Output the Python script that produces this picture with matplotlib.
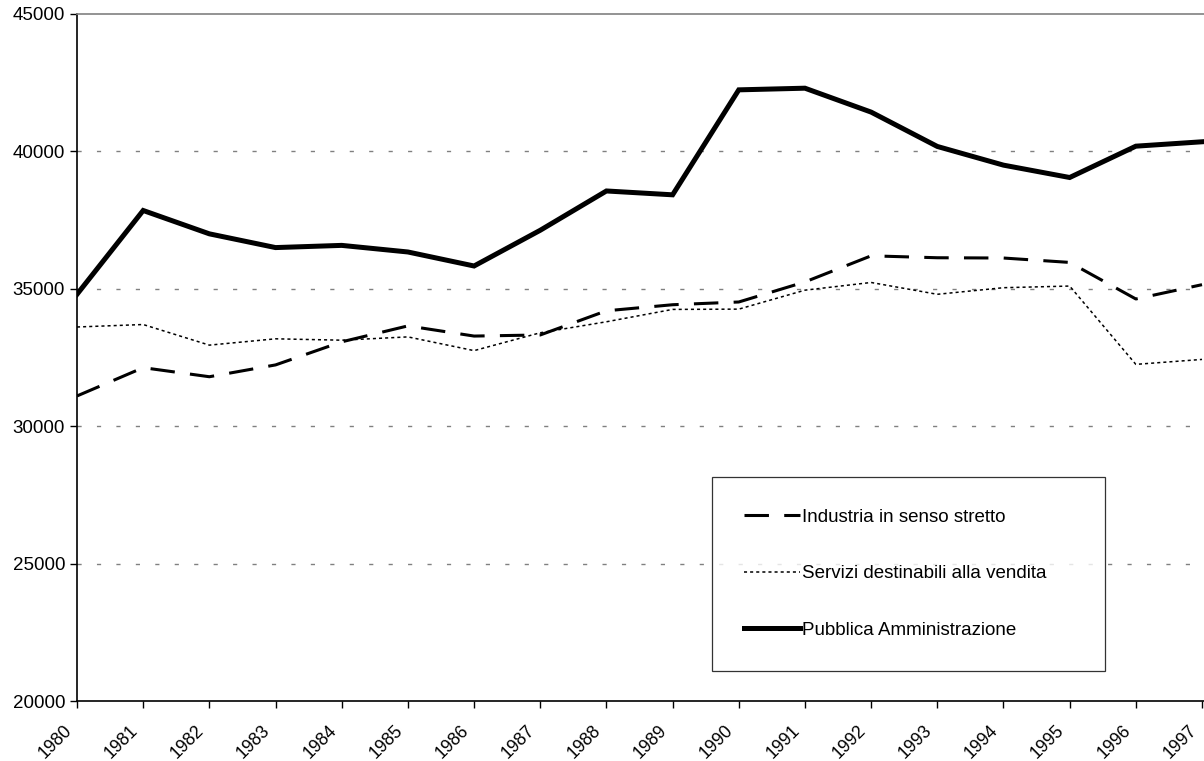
import matplotlib
matplotlib.use("Agg")
from matplotlib import pyplot as plt
from matplotlib import transforms

plt.rcParams['font.family'] = ['Liberation Sans', 'DejaVu Sans']

# data
anni = [1980, 1981, 1982, 1983, 1984, 1985, 1986, 1987, 1988,
        1989, 1990, 1991, 1992, 1993, 1994, 1995, 1996, 1997]

industria = [31100, 32130, 31800, 32230, 33070, 33650, 33280, 33320, 34200,
             34420, 34520, 35250, 36200, 36130, 36120, 35960, 34630, 35150]

servizi = [33610, 33700, 32950, 33180, 33130, 33250, 32750, 33400, 33800,
           34250, 34260, 34950, 35230, 34800, 35040, 35100, 32250, 32430]

pubblica = [34800, 37850, 37000, 36500, 36580, 36340, 35830, 37130, 38560,
            38420, 42240, 42300, 41430, 40180, 39500, 39050, 40190, 40350]

nomi = ["Industria in senso stretto",
        "Servizi destinabili alla vendita",
        "Pubblica Amministrazione"]

y_ticks = [20000, 25000, 30000, 35000, 40000, 45000]
fs = 13.5

fig = plt.figure(figsize=(12.04, 7.61), dpi=100)
ax = fig.add_axes([77/1204, 1-701/761, 1-77/1204, (701-14)/761])

# grid
for v in y_ticks[1:-1]:
    ax.axhline(v, color='#808080', lw=1.0, dashes=(3, 11), zorder=1)

ax.plot(anni, industria, color='black', lw=2.2, dashes=(8, 5), label=nomi[0], zorder=3)
ax.plot(anni, servizi, color='black', lw=1.1, dashes=(2, 2), label=nomi[1], zorder=3)
ax.plot(anni, pubblica, color='black', lw=3.6, solid_joinstyle='miter', label=nomi[2], zorder=4)

ax.set_xlim(1980, 1997.03)
ax.set_ylim(20000, 45000)
ax.set_yticks(y_ticks)
ax.set_yticklabels([str(v) for v in y_ticks], fontsize=fs)
ax.set_xticks(anni)
ax.set_xticklabels([str(a) for a in anni], fontsize=12.7, rotation=45,
                   ha='right', rotation_mode='anchor')
ax.tick_params(axis='both', direction='out', length=5, width=1, color='black')
ax.tick_params(axis='x', pad=6)

# shift the year labels a bit left/down like the original
shift = transforms.ScaledTranslation(-0.14, -0.06, fig.dpi_scale_trans)
for lab in ax.get_xticklabels():
    lab.set_transform(lab.get_transform() + shift)

ax.spines['right'].set_visible(False)
ax.spines['top'].set_color('#808080')
ax.spines['top'].set_linewidth(1.2)
ax.spines['left'].set_linewidth(1.2)
ax.spines['bottom'].set_linewidth(1.2)

x0 = (712 - 77) / 1127
y1 = (701 - 477) / 687
w = (1105 - 712) / 1127
leg = ax.legend(loc='upper left', bbox_to_anchor=(x0, y1, w, 0.0), mode='expand',
                fontsize=fs, frameon=True, fancybox=False, edgecolor='black',
                borderpad=1.7, labelspacing=2.1, handlelength=3.0,
                handletextpad=0.1, borderaxespad=0)
leg.get_frame().set_linewidth(0.9)

fig.savefig("out.png", dpi=100)
